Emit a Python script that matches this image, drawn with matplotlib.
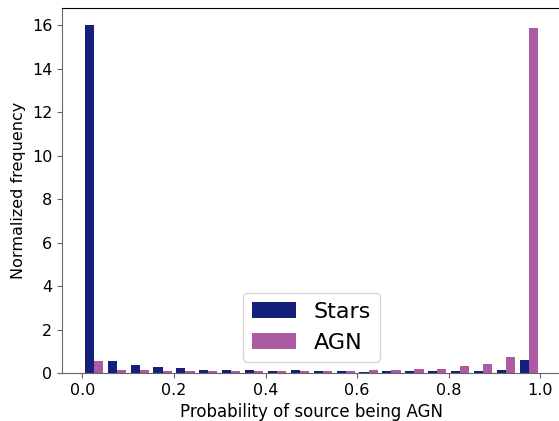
import numpy as np
import matplotlib
matplotlib.use('Agg')
import matplotlib.pyplot as plt

# bin edges of the histogram (20 bins over [0, 1])
bin_edges = np.linspace(0, 1, 21)

# normalized frequency per bin
stars = [16.00, 0.57, 0.38, 0.29, 0.24, 0.15, 0.15, 0.15, 0.10, 0.15,
         0.10, 0.10, 0.06, 0.10, 0.10, 0.10, 0.10, 0.10, 0.15, 0.62]
agn = [0.57, 0.15, 0.15, 0.10, 0.10, 0.10, 0.10, 0.10, 0.10, 0.10,
       0.10, 0.10, 0.15, 0.15, 0.20, 0.20, 0.30, 0.43, 0.75, 15.86]

labels = ['Stars', 'AGN']
colors = ['#13207c', '#ab5aa3']

fig = plt.figure(figsize=(5.59, 4.21), dpi=100)
# the original figure is cropped on the right, so the axes run past the edge
ax = fig.add_axes([0.111, 0.114, 0.892, 0.867])

centers = (bin_edges[:-1] + bin_edges[1:]) / 2
ax.hist([centers, centers], bins=bin_edges, weights=[stars, agn],
        color=colors, label=labels)

for side in ['left', 'bottom']:
    ax.spines[side].set_color('#666666')
ax.tick_params(colors='#666666', labelcolor='black', labelsize=11.5)

ax.set_xlabel('Probability of source being AGN', fontsize=12)
ax.set_ylabel('Normalized frequency', fontsize=11.5)
ax.legend(loc='lower center', fontsize=16)

plt.savefig('out.png', dpi=100)
